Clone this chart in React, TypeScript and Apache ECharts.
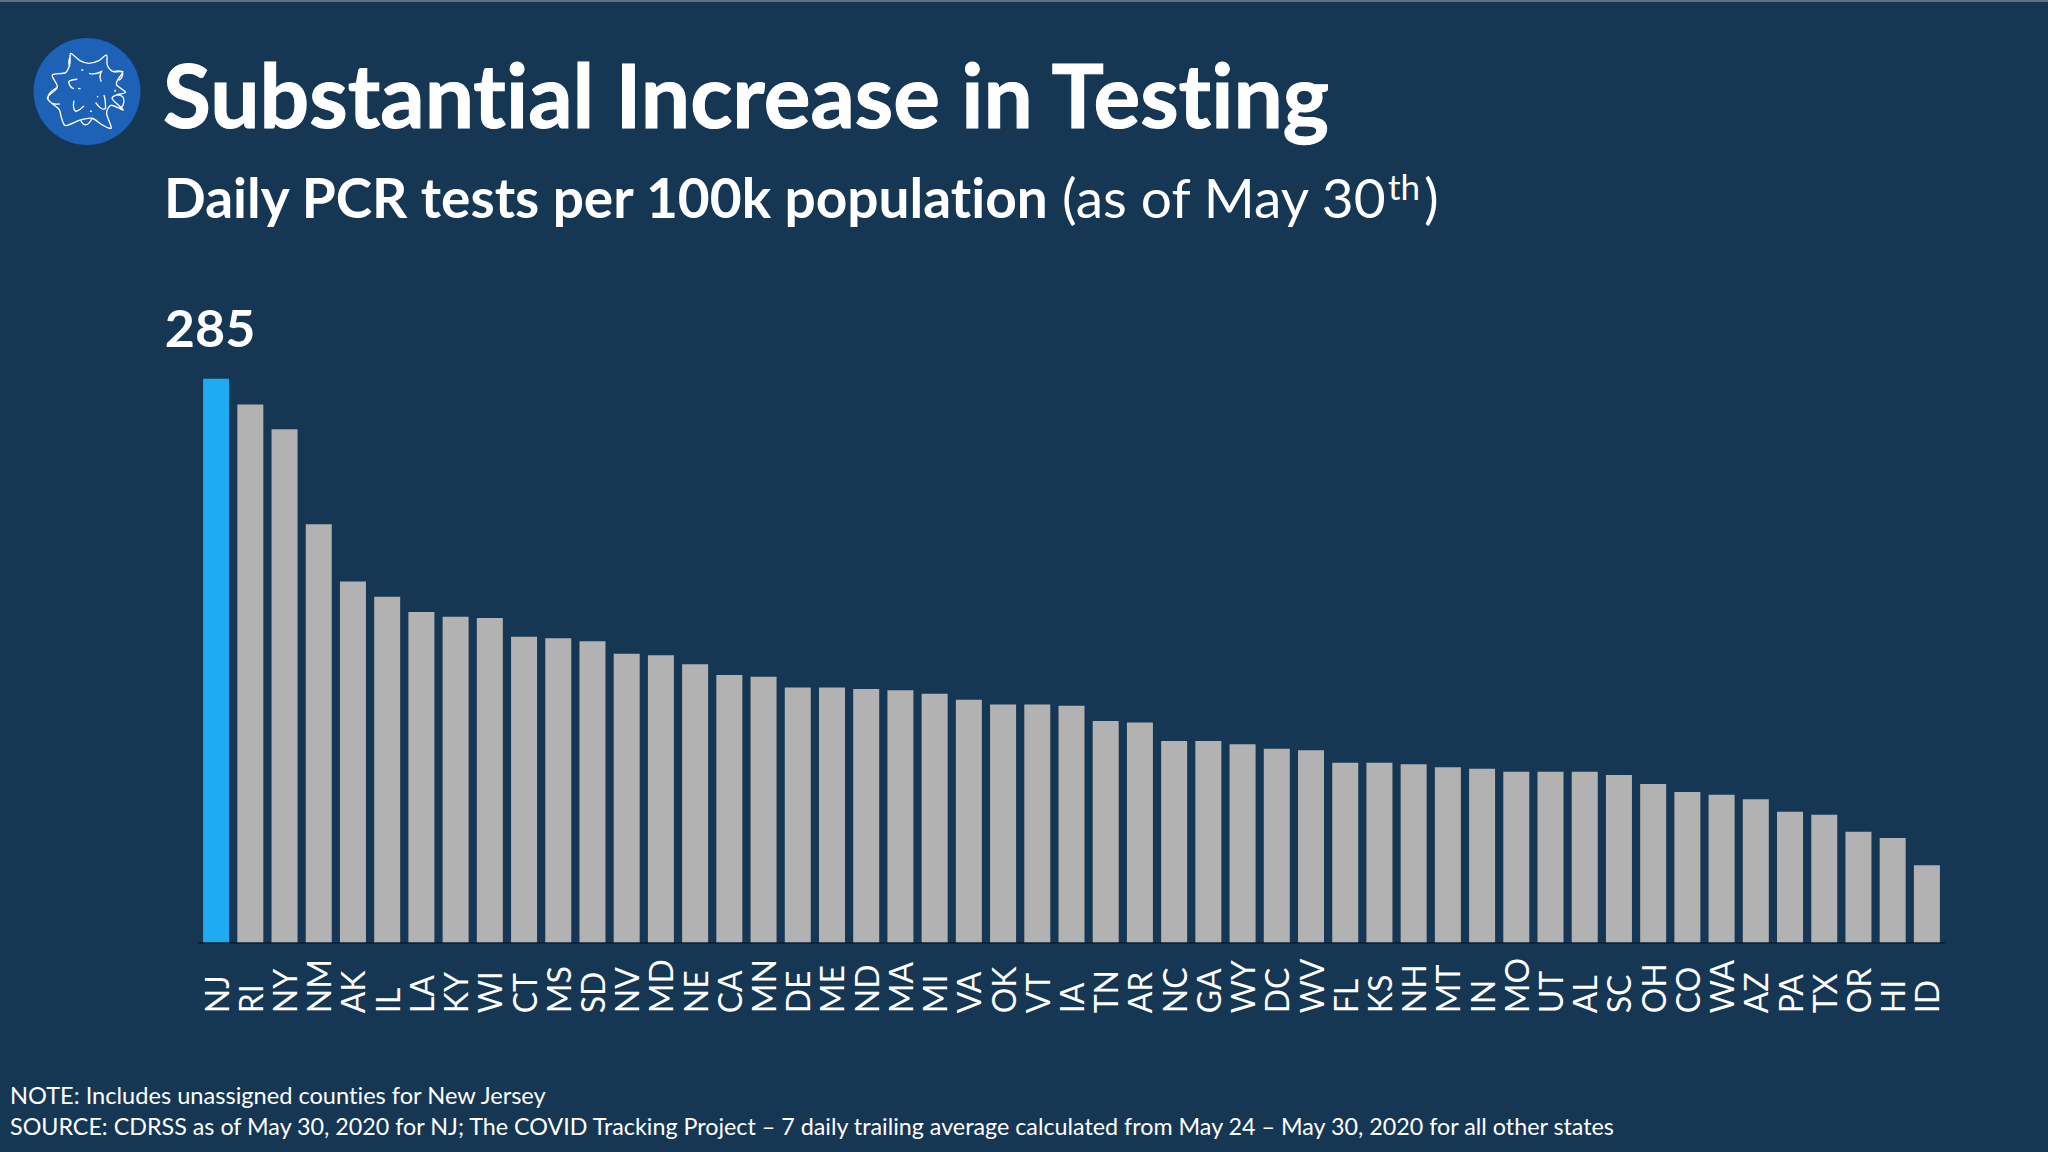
import React, { useEffect, useRef } from "react";
import * as echarts from "echarts";

const states = ["NJ","RI","NY","NM","AK","IL","LA","KY","WI","CT","MS","SD","NV","MD","NE","CA","MN","DE","ME","ND","MA","MI","VA","OK","VT","IA","TN","AR","NC","GA","WY","DC","WV","FL","KS","NH","MT","IN","MO","UT","AL","SC","OH","CO","WA","AZ","PA","TX","OR","HI","ID"];
const testsPer100k = [285,272,259.4,211.4,182.5,174.8,167,164.6,164,154.5,153.7,152.2,145.9,145.1,140.6,135.2,134.3,128.9,128.9,128.1,127.4,125.7,122.7,120.3,120.3,119.6,111.9,111.2,101.8,101.8,100.1,97.9,97.1,90.8,90.8,90,88.5,87.8,86.3,86.3,86.3,84.6,80,76,74.6,72.3,66,64.5,55.9,52.7,38.9];
const titleText = "Substantial Increase in Testing";
const subtitleBold = "Daily PCR tests per 100k population";
const subtitleRegular = "(as of May 30";
const noteText = "NOTE: Includes unassigned counties for New Jersey";
const sourceText = "SOURCE: CDRSS as of May 30, 2020 for NJ; The COVID Tracking Project – 7 daily trailing average calculated from May 24 – May 30, 2020 for all other states";

const FONT = "Lato";
const BG = "#163754";

// Decorative logo outline, in a 378x360 local box
const blob: number[][] = [[140,70],[168,92],[195,100],[225,92],[248,75],[250,105],[268,125],[297,125],[283,147],[278,165],[305,187],[278,195],[265,207],[298,240],[262,226],[248,250],[262,294],[235,285],[205,265],[170,270],[125,287],[112,262],[105,238],[70,205],[100,172],[85,135],[125,128],[138,100]];
function catmullClosed(p: number[][]) {
  const n = p.length;
  let d = `M${p[0][0]} ${p[0][1]}`;
  for (let i = 0; i < n; i++) {
    const a = p[(i - 1 + n) % n], b = p[i], c = p[(i + 1) % n], e = p[(i + 2) % n];
    const k = 0.14;
    d += `C${b[0] + (c[0] - a[0]) * k} ${b[1] + (c[1] - a[1]) * k} ${c[0] - (e[0] - b[0]) * k} ${c[1] - (e[1] - b[1]) * k} ${c[0]} ${c[1]}`;
  }
  return d + "Z";
}
const logoPath =
  catmullClosed(blob) +
  "M100 172Q68 190 72 208Q82 226 108 222" +
  "M268 125Q300 118 296 135Q292 150 283 150" +
  "M278 195Q302 195 300 215Q298 234 285 234" +
  "M170 270Q185 302 205 265" +
  "M140 75Q130 100 138 110" +
  "M135 160Q130 150 160 148M135 160Q140 175 150 176" +
  "M195 130Q215 135 232 125Q225 140 232 155" +
  "M150 212Q145 235 155 245Q170 240 180 228" +
  "M215 218Q235 245 245 235Q245 210 240 195" +
  "M172 120L178 120M162 175L170 177M272 180L275 185M220 198L222 202M198 243L204 245";
echarts.graphic.registerShape("logoVirus", echarts.graphic.extendPath(logoPath, {}));

export default function App() {
  const ref = useRef<HTMLDivElement>(null);
  useEffect(() => {
    document.body.style.margin = "0";
    const sheet = document.createElement("style");
    sheet.textContent = 'svg text{font-variant-ligatures:none !important;font-feature-settings:"liga" 0,"clig" 0 !important;}';
    document.head.appendChild(sheet);
    const chart = echarts.init(ref.current!, null, { renderer: "svg" });
    const txt = (text: string, x: number, y: number, size: number, weight: any, extra: any = {}) => ({
      type: "text", x, y, silent: true,
      style: { text, fill: "#ffffff", font: `${weight} ${size}px ${FONT}`, verticalAlign: "bottom", ...extra },
    });
    chart.setOption({
      animation: false,
      backgroundColor: BG,
      grid: { left: 199, right: 104, top: 378.7, bottom: 209.7, containLabel: false },
      xAxis: {
        type: "category",
        data: states,
        axisTick: { show: false },
        axisLine: { lineStyle: { color: "#0e2235", width: 2 } },
        axisLabel: { interval: 0, rotate: 90, margin: 71, align: "left", verticalAlign: "middle", color: "#ffffff", fontFamily: FONT, fontSize: 32 },
      },
      yAxis: { type: "value", min: 0, max: 285, show: false },
      series: [{
        type: "bar",
        barWidth: "76%",
        data: testsPer100k.map((v, i) => i === 0
          ? { value: v, itemStyle: { color: "#1eabf1" }, label: { show: true, position: "top", distance: 26, offset: [-6, 0], color: "#fff", fontFamily: FONT, fontWeight: "bold", fontSize: 52, formatter: "{c}" } }
          : { value: v }),
        itemStyle: { color: "#b2b2b2" },
      }],
      graphic: [
        { type: "rect", shape: { x: 0, y: 0, width: 2048, height: 2 }, style: { fill: "#5f7283" }, silent: true },
        { type: "circle", shape: { cx: 87, cy: 91.5, r: 53.5 }, style: { fill: "#1e62b8" }, silent: true },
        { type: "logoVirus", x: 24, y: 30, scaleX: 1 / 3, scaleY: 1 / 3, style: { fill: "none", stroke: "#ffffff", lineWidth: 4 }, silent: true },
        txt(titleText, 163, 138, 87.5, "bold", { stroke: "#ffffff", lineWidth: 1 }),
        txt(subtitleBold, 164, 224, 55, "bold"),
        txt(subtitleRegular, 1062, 224, 55, "normal"),
        txt("th", 1388, 203, 35, "normal"),
        txt(")", 1424, 224, 55, "normal"),
        txt(noteText, 10, 1107, 23.6, "normal"),
        txt(sourceText, 10, 1137, 23.3, "normal"),
      ],
    });
    return () => { chart.dispose(); sheet.remove(); };
  }, []);
  return <div ref={ref} style={{ position: "fixed", left: 0, top: 0, width: 2048, height: 1152 }} />;
}
